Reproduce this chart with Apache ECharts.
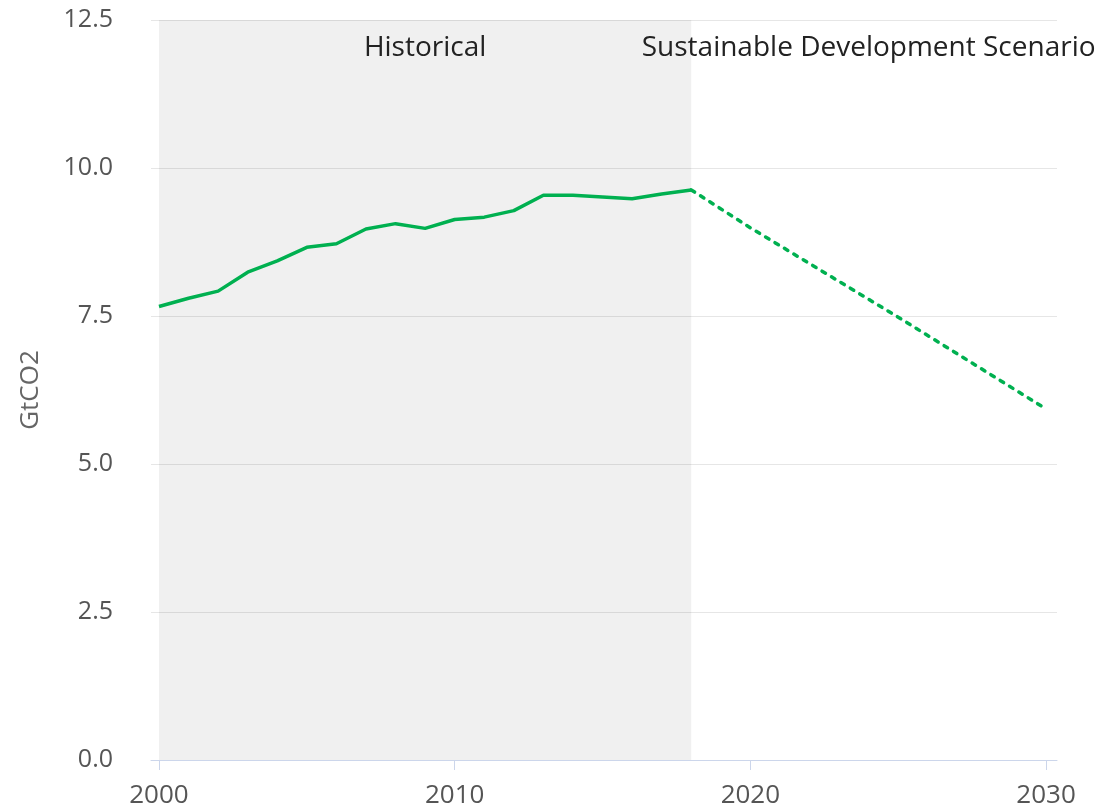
<!DOCTYPE html>
<html><head><meta charset="utf-8">
<script src="https://cdn.jsdelivr.net/npm/echarts@6/dist/echarts.min.js"></script>
<style>html,body{margin:0;padding:0;background:#fff}#c{width:1114px;height:809px}</style>
</head><body><div id="c"></div>
<script>
const historicalYears = [2000,2001,2002,2003,2004,2005,2006,2007,2008,2009,2010,2011,2012,2013,2014,2015,2016,2017,2018];
const historicalValues = [7.66,7.80,7.92,8.24,8.43,8.66,8.72,8.97,9.06,8.98,9.13,9.17,9.28,9.54,9.54,9.51,9.48,9.56,9.63];
const scenarioYears = [2018,2020,2025,2030];
const scenarioValues = [9.63,8.99,7.48,5.93];
const xTicks = [2000,2010,2020,2030];
const regions = [
  {name:'Historical', from:2000, to:2018},
  {name:'Sustainable Development Scenario', from:2018, to:2030}
];

const font = "'Open Sans', 'Noto Sans', sans-serif";
const green = '#00b050';
const chart = echarts.init(document.getElementById('c'), null, {renderer:'canvas'});
chart.setOption({
  animation:false,
  grid:{left:151,right:57,top:20,bottom:48,containLabel:false},
  xAxis:{
    type:'value', min:1999.73, max:2030.37,
    axisLine:{show:true,lineStyle:{color:'#ccd6eb',width:1}},
    axisTick:{show:true,customValues:xTicks,length:10,lineStyle:{color:'#ccd6eb'}},
    axisLabel:{customValues:xTicks,color:'#555',fontSize:26,fontFamily:font,margin:23,formatter:v=>String(v)},
    splitLine:{show:false}
  },
  yAxis:{
    type:'value', min:0, max:12.5, interval:2.5,
    name:'GtCO2', nameLocation:'middle', nameGap:107, nameRotate:90,
    nameTextStyle:{color:'#666',fontSize:26,fontFamily:font},
    axisLine:{show:false}, axisTick:{show:false},
    axisLabel:{color:'#555',fontSize:25,fontFamily:font,margin:38,formatter:v=>v.toFixed(1)},
    splitLine:{lineStyle:{color:'#e6e6e6',width:1}}
  },
  series:[
    {
      type:'line', name:'Historical', data:historicalYears.map((y,i)=>[y,historicalValues[i]]),
      showSymbol:false, lineStyle:{color:green,width:3.5}, z:3,
      markArea:{
        silent:true,
        data:[
          [{xAxis:regions[0].from,yAxis:12.5,name:regions[0].name,itemStyle:{color:'rgba(0,0,0,0.06)'}},{xAxis:regions[0].to,yAxis:0}],
          [{xAxis:regions[1].from,yAxis:12.5,name:regions[1].name,itemStyle:{color:'rgba(255,255,255,0)'}},{xAxis:regions[1].to,yAxis:0}]
        ],
        label:{show:true,position:'insideTop',distance:14,color:'#222',fontSize:28,fontFamily:font}
      }
    },
    {
      type:'line', name:'Sustainable Development Scenario', data:scenarioYears.map((y,i)=>[y,scenarioValues[i]]),
      showSymbol:false, lineStyle:{color:green,width:3.5,type:[4,7],cap:'round'}, z:3
    }
  ]
});
</script></body></html>
